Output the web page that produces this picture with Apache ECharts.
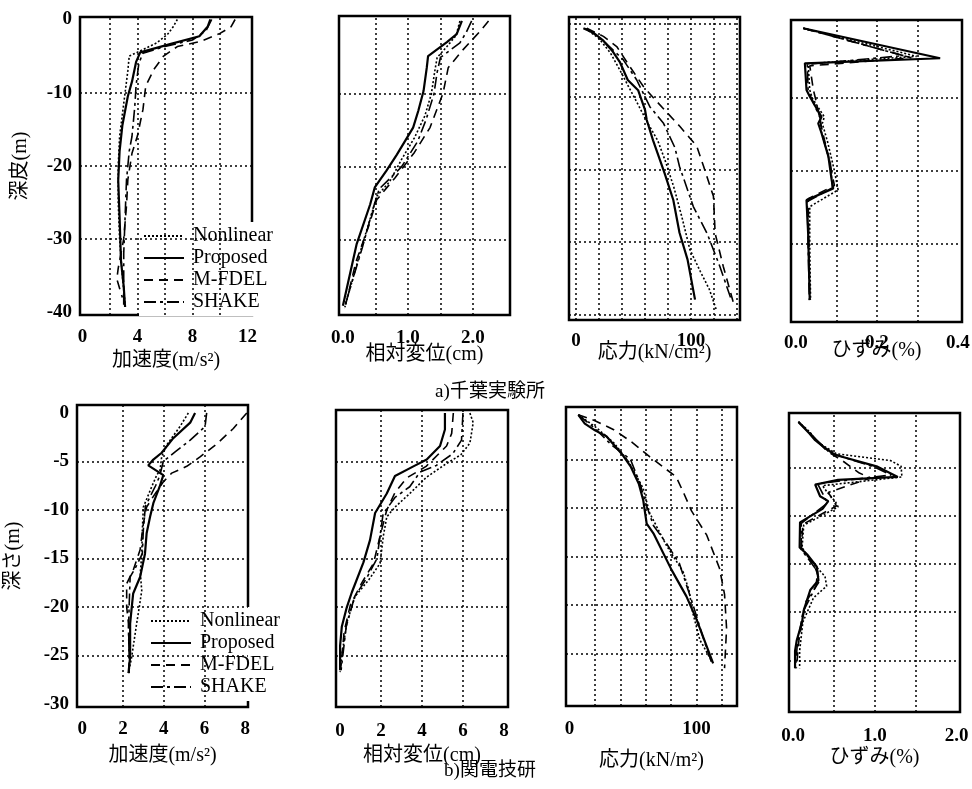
<!DOCTYPE html>
<html>
<head>
<meta charset="utf-8">
<script src="https://cdn.jsdelivr.net/npm/echarts@6/dist/echarts.min.js"></script>
<style>
html, body { margin: 0; padding: 0; background: #fff; }
#main { width: 972px; height: 789px; }
</style>
</head>
<body>
<div id="main"></div>
<script>
// ---- data: [value, depth] ----
var seriesNames = ['Nonlinear', 'Proposed', 'M-FDEL', 'SHAKE'];

// a) 千葉実験所
var accA_nonlinear = [[6.9,0],[6.6,-1],[6.2,-2],[5.4,-3.2],[4.2,-4.3],[3.4,-5],[3.3,-7],[3.1,-10],[2.9,-13],[2.7,-16],[2.6,-20],[2.6,-25],[2.7,-30],[2.9,-35],[3.1,-39]];
var accA_proposed = [[9.3,0],[9.1,-1],[8.5,-2.3],[6.5,-3.3],[4.2,-4.5],[3.9,-5.8],[3.6,-8.5],[3.3,-10.5],[2.9,-14.5],[2.7,-18],[2.6,-22],[2.7,-27],[2.8,-33],[3.0,-36.5],[3.1,-39.3]];
var accA_mfdel = [[11.1,0],[10.8,-1],[10.0,-1.9],[8.6,-3],[6.9,-3.7],[5.9,-5],[5.2,-6.8],[4.6,-9.1],[4.4,-12.3],[4.0,-15.9],[3.6,-18.3],[3.3,-21.9],[3.2,-25.5],[3.0,-30],[2.6,-34],[2.5,-35.5],[2.9,-38]];
var accA_shake = [[9.4,0],[9.0,-1.5],[8.0,-2.8],[6.0,-3.7],[4.4,-4.6],[4.1,-6],[3.9,-9],[3.8,-12],[3.6,-16],[3.4,-18],[3.2,-22],[3.1,-27],[3.0,-32],[3.0,-36],[3.0,-39]];

var dispA_nonlinear = [[1.8,0],[1.74,-2],[1.6,-3.5],[1.45,-5],[1.42,-6.5],[1.36,-10],[1.26,-13],[1.1,-16],[0.9,-19],[0.72,-22],[0.52,-24],[0.44,-26.5],[0.3,-30.6],[0.03,-39.2]];
var dispA_proposed = [[1.83,0],[1.75,-1.8],[1.6,-2.9],[1.31,-4.8],[1.29,-6.4],[1.24,-9.6],[1.16,-12.3],[1.08,-14.6],[0.83,-18.3],[0.67,-20.5],[0.49,-22.8],[0.42,-25.1],[0.21,-30.6],[0.0,-39]];
var dispA_mfdel = [[2.24,0],[2.1,-1.5],[1.83,-4.1],[1.62,-6.4],[1.54,-9.9],[1.34,-14.6],[1.1,-18],[0.8,-21.5],[0.52,-24.5],[0.4,-28],[0.2,-33],[0.03,-39.3]];
var dispA_shake = [[1.98,0],[1.9,-1.5],[1.8,-3],[1.5,-5],[1.45,-7],[1.4,-10],[1.28,-13.5],[1.15,-16.5],[0.9,-20],[0.56,-23],[0.47,-25.5],[0.3,-31],[0.02,-39.3]];

var stressA_nonlinear = [[8,-0.6],[20,-2],[30,-4],[38,-6.3],[47,-9],[55,-11.4],[63,-13.8],[71,-16],[78,-19],[85,-22.4],[92,-26.5],[99,-31],[108,-34],[116,-36.5],[122,-39.3]];
var stressA_proposed = [[6.4,-0.6],[15,-1.2],[23.8,-2.3],[32,-3.8],[38,-5.2],[45,-7.7],[54,-9.1],[60,-11.8],[61.5,-13.2],[67,-16],[77,-20.5],[84.6,-24.2],[90,-28.7],[97,-32.4],[103.5,-37.9]];
var stressA_mfdel = [[9.3,-0.6],[23.8,-1.7],[35.4,-3.1],[47,-5.9],[58.6,-8.6],[68.7,-10.4],[90.4,-14.1],[105,-16.8],[111,-19.6],[119.5,-23.7],[121,-28.8],[128,-33.3],[137,-38.4]];
var stressA_shake = [[9.3,-0.6],[25,-2.5],[41,-4.9],[52.8,-7.7],[64.3,-11.4],[75.9,-13.6],[86,-17],[90,-19.6],[102,-25.1],[114,-28.8],[125,-33.3],[135,-37.9]];

var strainA_nonlinear = [[0.018,-0.45],[0.298,-4.3],[0.03,-5.3],[0.034,-8.9],[0.04,-10],[0.07,-12.6],[0.065,-13.5],[0.078,-16],[0.095,-20],[0.104,-22.6],[0.034,-24.9],[0.034,-30],[0.036,-37.7]];
var strainA_proposed = [[0.018,-0.45],[0.356,-4.56],[0.022,-5.25],[0.026,-8.9],[0.034,-9.8],[0.063,-12.6],[0.055,-13.5],[0.063,-14.8],[0.08,-18],[0.088,-21.2],[0.092,-22.4],[0.026,-24],[0.03,-28.5],[0.034,-37.7]];
var strainA_mfdel = [[0.018,-0.45],[0.285,-4.5],[0.034,-5.6],[0.043,-8.9],[0.05,-10.5],[0.065,-14.5],[0.08,-18],[0.095,-22],[0.03,-23.8],[0.032,-30],[0.034,-37.7]];
var strainA_shake = [[0.018,-0.45],[0.265,-4.2],[0.028,-5.4],[0.03,-9],[0.06,-12.8],[0.062,-14.5],[0.085,-19],[0.09,-22.3],[0.028,-24.2],[0.03,-30],[0.033,-37.7]];

// b) 関電技研
var accB_nonlinear = [[5.21,0],[4.8,-1.4],[4.15,-3.3],[3.9,-4.5],[3.82,-5.9],[3.66,-6.4],[3.41,-7.6],[3.0,-9.7],[2.95,-12],[2.92,-14.6],[2.85,-16.5],[2.92,-18.3],[2.8,-20],[2.67,-21.7],[2.43,-25.1],[2.27,-26.8]];
var accB_proposed = [[5.54,0],[5.3,-1],[4.47,-2.6],[3.9,-4.1],[3.49,-4.8],[3.24,-5.4],[3.98,-6.4],[3.8,-7.6],[3.49,-9.3],[3.33,-10.7],[3.16,-12.4],[3.08,-14.5],[2.84,-16.9],[2.5,-18.6],[2.43,-20],[2.35,-21.7],[2.35,-25.1],[2.27,-26.8]];
var accB_mfdel = [[8.08,0],[7.42,-1.6],[6.6,-3.2],[5.8,-4.5],[5.13,-5.5],[4.39,-6.2],[3.98,-7.1],[3.49,-8.6],[3.16,-9.7],[3.0,-11.4],[2.84,-14.1],[2.5,-16.2],[2.18,-17.6],[2.18,-20],[2.27,-21.7],[2.3,-25],[2.3,-26.8]];
var accB_shake = [[6.11,0],[6.03,-1.4],[5.3,-2.8],[4.56,-4],[3.98,-5],[3.8,-6.5],[3.6,-7.5],[3.1,-9.6],[3.0,-12],[2.95,-14.5],[2.6,-16],[2.35,-16.9],[2.3,-20],[2.27,-22.4],[2.3,-25],[2.3,-26.8]];

var dispB_nonlinear = [[6.34,0],[6.5,-1],[6.34,-3.1],[5.9,-4.3],[5.2,-5.2],[4.23,-6.6],[3.4,-8.3],[2.68,-9.7],[2.28,-10.7],[2.11,-12.7],[1.95,-15.5],[1.4,-17.2],[0.73,-18.9],[0.33,-21.6],[0.08,-25],[0.0,-26.7]];
var dispB_proposed = [[5.12,0],[5.12,-1.7],[4.88,-3.4],[4.23,-4.8],[3.58,-5.5],[2.68,-6.5],[2.28,-8.3],[1.71,-10.3],[1.46,-13.1],[1.14,-15.4],[0.57,-18.5],[0.33,-20],[0.085,-22],[0.0,-24],[0.0,-26.5]];
var dispB_mfdel = [[5.53,0],[5.45,-2.1],[5.2,-3.4],[4.2,-5.5],[3.25,-6.7],[2.68,-8.2],[2.28,-10],[1.95,-12.7],[1.63,-15.5],[1.06,-17.5],[0.5,-19.8],[0.2,-22.5],[0.02,-26.5]];
var dispB_shake = [[6.0,0],[5.93,-2.8],[5.5,-4.2],[4.7,-5.4],[3.9,-6.1],[3.4,-7.6],[2.68,-8.7],[2.1,-10.4],[1.95,-12.7],[1.8,-15],[1.3,-17],[0.7,-19],[0.3,-22],[0.05,-26.5]];

var stressB_nonlinear = [[6.9,-0.4],[20,-1.6],[35,-3.3],[46.4,-5.2],[58,-8],[63,-10.5],[76,-13.8],[89.5,-16.6],[94,-18.5],[97,-20.8],[102.6,-23.6],[112,-25.8]];
var stressB_proposed = [[6.9,-0.4],[12,-1.3],[20,-2],[29,-2.6],[41,-4.4],[48,-5.7],[54.5,-7.5],[58,-9.2],[60.7,-11.6],[66,-12.6],[80.4,-16.4],[92,-19.1],[100,-21.5],[113,-26]];
var stressB_mfdel = [[6.9,-0.4],[20,-1],[34.4,-1.9],[49,-3.2],[63,-4.7],[74,-5.8],[84,-6.8],[90,-8.5],[96,-10.3],[108,-12.8],[118,-16.2],[122,-18.9],[123.6,-22.4],[122,-26.5]];
var stressB_shake = [[6.9,-0.4],[20,-1.8],[33,-3.5],[48,-5],[55.5,-7.5],[60,-9.5],[66,-11.8],[76,-13.6],[86.4,-15.7],[97,-19.9],[105,-23.3],[112,-26]];

var strainB_nonlinear = [[0.065,-0.3],[0.2,-1.3],[0.3,-2.4],[0.53,-3.6],[1.19,-4.3],[1.32,-4.9],[1.33,-6.0],[0.36,-6.9],[0.41,-7.5],[0.52,-8.6],[0.55,-9.1],[0.13,-11],[0.11,-13.3],[0.2,-14.5],[0.39,-16.3],[0.41,-17.3],[0.25,-18.5],[0.12,-21],[0.08,-24],[0.08,-25.8]];
var strainB_proposed = [[0.065,-0.3],[0.2,-1.5],[0.27,-2.2],[0.36,-2.8],[0.51,-3.7],[1.02,-4.9],[1.28,-6.0],[0.55,-6.3],[0.27,-6.8],[0.33,-8],[0.43,-8.5],[0.36,-9.3],[0.085,-10.7],[0.08,-13.3],[0.17,-14],[0.29,-15.3],[0.31,-16.7],[0.21,-17.7],[0.13,-19.8],[0.11,-21],[0.045,-22.9],[0.024,-24],[0.024,-25.8]];
var strainB_mfdel = [[0.065,-0.3],[0.18,-1.2],[0.41,-3.3],[0.6,-4.3],[0.81,-5.6],[0.95,-6.1],[0.43,-7.6],[0.53,-9],[0.12,-10.9],[0.1,-13.3],[0.25,-15],[0.33,-16.7],[0.15,-19],[0.07,-23],[0.04,-25.8]];
var strainB_shake = [[0.065,-0.3],[0.22,-1.6],[0.45,-3.5],[1.0,-5],[1.2,-5.8],[0.3,-6.7],[0.42,-8.7],[0.1,-10.8],[0.1,-13.5],[0.3,-15.8],[0.28,-17.3],[0.12,-20],[0.05,-23.5],[0.03,-25.8]];

// tick labels and grid lines
var depthTicksA = [0, -10, -20, -30, -40];
var depthGridA = [-10, -20, -30];
var depthTicksB = [0, -5, -10, -15, -20, -25, -30];
var depthGridB = [-5, -10, -15, -20, -25];
var accTicksA = [0, 4, 8, 12];
var accGridA = [2, 4, 6, 8, 10];
var dispTicksA = [0, 1, 2];
var dispGridA = [0.5, 1.0, 1.5, 2.0];
var stressTicksA = [0, 100];
var stressGridA = [0, 20, 40, 60, 80, 100, 120, 140];
var stressDepthGridA = [0, -10, -20, -30, -40];
var strainTicksA = [0, 0.2, 0.4];
var strainGridA = [0.1, 0.2, 0.3];
var accTicksB = [0, 2, 4, 6, 8];
var accGridB = [2, 4, 6];
var dispTicksB = [0, 2, 4, 6, 8];
var dispGridB = [2, 4, 6];
var stressTicksB = [0, 100];
var stressGridB = [20, 40, 60, 80, 100, 120];
var strainTicksB = [0, 1, 2];
var strainGridB = [0.5, 1.0, 1.5];

var serif = "'Liberation Serif', 'Noto Sans CJK JP', serif";

var panels = [
  {box: [80, 17, 172, 298], x: [-0.18, 12.33], y: [-40.4, 0.34], xStep: 4, xTicks: accTicksA, digits: 0, xGrid: accGridA, yGrid: depthGridA, yStep: 10, yTicks: depthTicksA, yName: '深皮(m)', yGap: 49, name: '加速度(m/s²)', nameGap: 36, margin: 13, data: [accA_nonlinear, accA_proposed, accA_mfdel, accA_shake]},
  {box: [339, 16, 171, 299], x: [-0.06, 2.57], y: [-40.27, 0.68], xStep: 1, xTicks: dispTicksA, digits: 1, xGrid: dispGridA, yGrid: depthGridA, yStep: 10, name: '相対変位(cm)', nameGap: 30, margin: 14, data: [dispA_nonlinear, dispA_proposed, dispA_mfdel, dispA_shake]},
  {box: [569, 17, 171, 303], x: [-6.1, 142.6], y: [-40.7, 0.96], xStep: 100, xTicks: stressTicksA, digits: 0, xGrid: stressGridA, yGrid: stressDepthGridA, yStep: 10, name: '応力(kN/cm²)', nameGap: 23, margin: 12, data: [stressA_nonlinear, stressA_proposed, stressA_mfdel, stressA_shake]},
  {box: [791, 20, 171, 302], x: [-0.0123, 0.41], y: [-40.7, 0.68], xStep: 0.2, xTicks: strainTicksA, digits: 1, xGrid: strainGridA, yGrid: depthGridA, yStep: 10, name: 'ひずみ(%)', nameGap: 19, margin: 12, data: [strainA_nonlinear, strainA_proposed, strainA_mfdel, strainA_shake]},
  {box: [77, 405, 171, 302], x: [-0.26, 8.14], y: [-30.3, 0.82], xStep: 2, xTicks: accTicksB, digits: 0, xGrid: accGridB, yGrid: depthGridB, yStep: 5, yTicks: depthTicksB, yName: '深さ(m)', yGap: 53, name: '加速度(m/s²)', nameGap: 39, margin: 13, data: [accB_nonlinear, accB_proposed, accB_mfdel, accB_shake]},
  {box: [336, 410, 172, 297], x: [-0.2, 8.2], y: [-30.3, 0.31], xStep: 2, xTicks: dispTicksB, digits: 0, xGrid: dispGridB, yGrid: depthGridB, yStep: 5, name: '相対変位(cm)', nameGap: 39, margin: 15, data: [dispB_nonlinear, dispB_proposed, dispB_mfdel, dispB_shake]},
  {box: [566, 407, 171, 299], x: [-2.8, 131.8], y: [-30.4, 0.41], xStep: 100, xTicks: stressTicksB, digits: 0, xGrid: stressGridB, yGrid: depthGridB, yStep: 5, name: '応力(kN/m²)', nameGap: 45, margin: 14, data: [stressB_nonlinear, stressB_proposed, stressB_mfdel, stressB_shake]},
  {box: [789, 413, 171, 299], x: [-0.05, 2.04], y: [-30.33, 0.62], xStep: 1, xTicks: strainTicksB, digits: 1, xGrid: strainGridB, yGrid: depthGridB, yStep: 5, name: 'ひずみ(%)', nameGap: 36, margin: 15, data: [strainB_nonlinear, strainB_proposed, strainB_mfdel, strainB_shake]}
];

var lineStyles = {
  'Nonlinear': {type: [2, 2], width: 1.6},
  'Proposed': {type: 'solid', width: 2.2},
  'M-FDEL': {type: [9, 6], width: 1.6},
  'SHAKE': {type: [12, 4, 3, 4], width: 1.6}
};

function pick(list, digits) {
  return function (v) {
    for (var i = 0; i < list.length; i++) {
      if (Math.abs(list[i] - v) < 1e-6) return list[i].toFixed(digits);
    }
    return '';
  };
}

var grids = [], xAxes = [], yAxes = [], series = [];
panels.forEach(function (p, i) {
  grids.push({
    left: p.box[0], top: p.box[1], width: p.box[2], height: p.box[3],
    show: true, borderColor: '#000', borderWidth: 2.5, backgroundColor: 'transparent',
    outerBoundsMode: 'none'
  });
  xAxes.push({
    type: 'value', gridIndex: i, min: p.x[0], max: p.x[1],
    minInterval: p.xStep, maxInterval: p.xStep,
    axisLine: {show: false}, axisTick: {show: false}, splitLine: {show: false},
    axisLabel: {
      formatter: pick(p.xTicks, p.digits), margin: p.margin,
      color: '#000', fontFamily: serif, fontSize: 19, fontWeight: 'bold'
    },
    name: p.name, nameLocation: 'middle', nameGap: p.nameGap, nameMoveOverlap: false,
    nameTextStyle: {color: '#000', fontFamily: serif, fontSize: 20}
  });
  var ya = {
    type: 'value', gridIndex: i, min: p.y[0], max: p.y[1],
    minInterval: p.yStep, maxInterval: p.yStep,
    axisLine: {show: false}, axisTick: {show: false}, splitLine: {show: false},
    axisLabel: {show: false}
  };
  if (p.yTicks) {
    ya.axisLabel = {
      show: true, formatter: pick(p.yTicks, 0), margin: 8,
      color: '#000', fontFamily: serif, fontSize: 19, fontWeight: 'bold'
    };
    ya.name = p.yName;
    ya.nameLocation = 'middle';
    ya.nameGap = p.yGap;
    ya.nameMoveOverlap = false;
    ya.nameTextStyle = {color: '#000', fontFamily: serif, fontSize: 20};
  }
  yAxes.push(ya);

  seriesNames.forEach(function (name, k) {
    var s = {
      name: name, type: 'line', xAxisIndex: i, yAxisIndex: i,
      data: p.data[k], symbol: 'none', smooth: false,
      lineStyle: Object.assign({color: '#000'}, lineStyles[name]),
      itemStyle: {color: '#000'}, z: 3
    };
    if (k === 0) {
      s.markLine = {
        silent: true, symbol: ['none', 'none'], label: {show: false},
        lineStyle: {color: '#000', type: [2, 3], width: 1.5},
        emphasis: {disabled: true},
        data: p.xGrid.map(function (v) { return {xAxis: v}; })
          .concat(p.yGrid.map(function (v) { return {yAxis: v}; }))
      };
    }
    series.push(s);
  });
});

function legendAt(left, top) {
  return {
    orient: 'vertical', left: left, top: top, data: seriesNames,
    itemWidth: 40, itemHeight: 14, itemGap: 2, padding: [4, 6, 4, 4],
    backgroundColor: '#fff', selectedMode: false,
    itemStyle: {opacity: 0, borderWidth: 0},
    textStyle: {fontFamily: serif, fontSize: 20, color: '#000', padding: [0, 0, 0, 4]}
  };
}

var option = {
  animation: false,
  backgroundColor: '#fff',
  grid: grids,
  xAxis: xAxes,
  yAxis: yAxes,
  legend: [legendAt(139, 222), legendAt(146, 607)],
  graphic: [
    {type: 'text', x: 490, y: 392, style: {text: 'a)千葉実験所', align: 'center', verticalAlign: 'middle', fontFamily: serif, fontSize: 19, fill: '#000'}},
    {type: 'text', x: 490, y: 771, style: {text: 'b)関電技研', align: 'center', verticalAlign: 'middle', fontFamily: serif, fontSize: 19, fill: '#000'}}
  ],
  series: series
};

var myChart = echarts.init(document.getElementById('main'));
myChart.setOption(option);
</script>
</body>
</html>
